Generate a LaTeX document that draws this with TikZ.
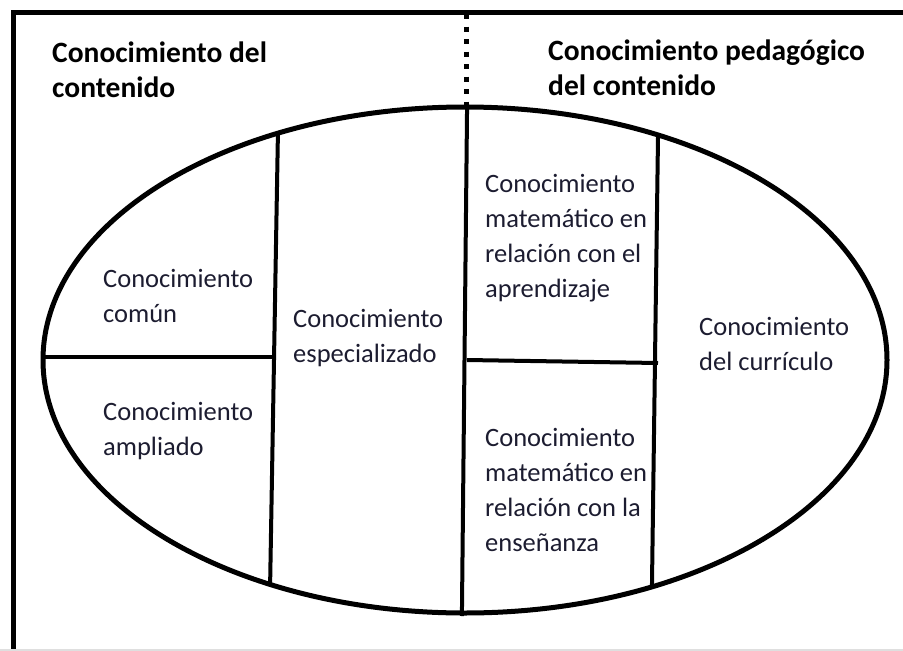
\documentclass[tikz,border=0pt]{standalone}
\usepackage{fontspec}
\setmainfont{Carlito}
\definecolor{txt}{RGB}{28,28,48}
\begin{document}
\begin{tikzpicture}[x=1pt,y=-1pt,
  body/.style={anchor=base west, inner sep=0pt, align=left, text=txt, font=\fontsize{26.5}{35}\selectfont},
  head/.style={anchor=base west, inner sep=0pt, align=left, text=black, font=\fontsize{29.5}{35}\selectfont\bfseries},
  frameline/.style={line width=5pt, black},
  divider/.style={line width=4pt, black},
  dotline/.style={line width=4.5pt, black, dash pattern=on 5pt off 7.5pt}]
\useasboundingbox (0,0) rectangle (903,651);
% outer frame (open to right and bottom)
\draw[frameline] (13,660) -- (13,12) -- (915,12);
\draw[gray!25, line width=1.5pt] (0,650) -- (903,650);
% dotted separator
\coordinate (dtop) at (466.5,14);
\coordinate (etop) at (466.5,107);
\draw[dotline] (dtop) -- (etop);
% ellipse geometry
\coordinate (c) at (465,360);
% dividers clipped to ellipse
\begin{scope}
  \clip (c) ellipse [x radius=422, y radius=253];
  \coordinate (lvt) at (278.5,100);
  \coordinate (lvb) at (269.5,620);
  \coordinate (lhl) at (30,357);
  \coordinate (lhr) at (274,357);
  \coordinate (cvt) at (467,100);
  \coordinate (cvb) at (462,620);
  \coordinate (rhl) at (467,360);
  \coordinate (rhr) at (658,363);
  \coordinate (rvt) at (658.5,100);
  \coordinate (rvb) at (651.5,620);
  \draw[divider] (lvt) -- (lvb);
  \draw[divider] (lhl) -- (lhr);
  \draw[divider] (rhl) -- (rhr);
  \draw[divider] (rvt) -- (rvb);
\end{scope}
\draw[divider] (467.1,104) -- (461.9,616);
\draw[line width=5pt] (c) ellipse [x radius=422, y radius=253];
% headings (base = last line baseline)
\node[head] (h1) at (52,97) {Conocimiento del\\contenido};
\node[head] (h2) at (548,95) {Conocimiento pedagógico\\del contenido};
% body texts
\node[body] (comun) at (103,322) {Conocimiento\\común};
\node[body] (ampl) at (103,455) {Conocimiento\\ampliado};
\node[body] (espec) at (293,362) {Conocimiento\\especializado};
\node[body] (apr) at (485,297) {Conocimiento\\matemático en\\relación con el\\aprendizaje};
\node[body] (curr) at (699,370) {Conocimiento\\del currículo};
\node[body] (ens) at (485,551) {Conocimiento\\matemático en\\relación con la\\enseñanza};
\end{tikzpicture}
\end{document}
